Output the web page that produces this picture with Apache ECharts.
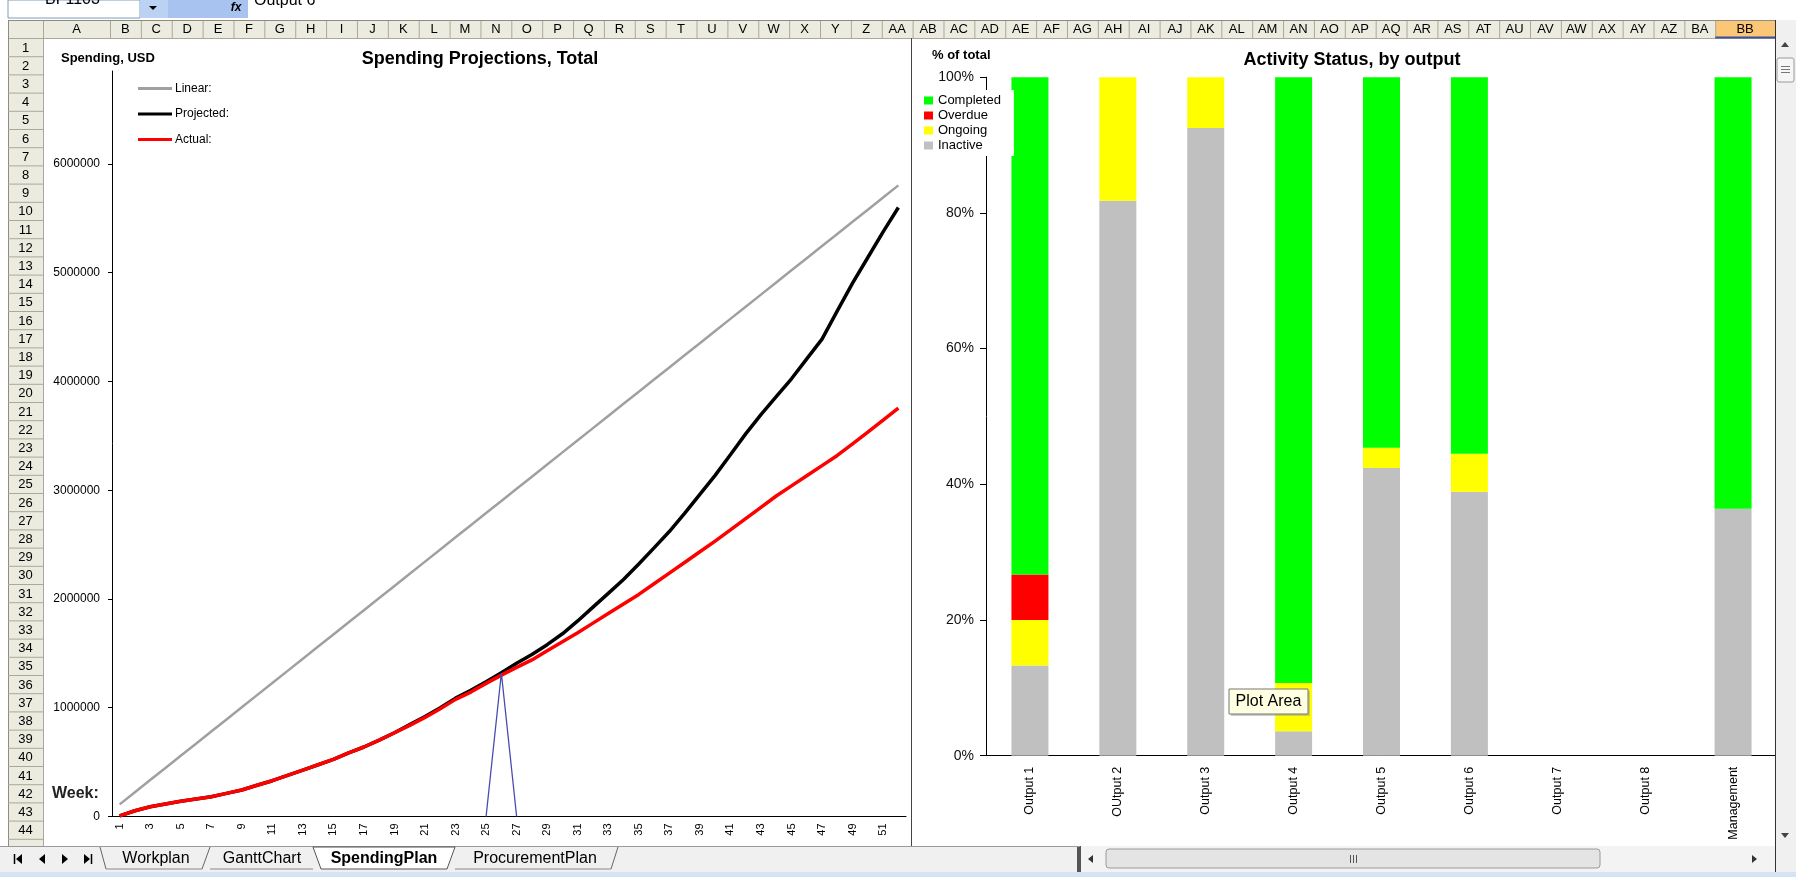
<!DOCTYPE html>
<html><head><meta charset="utf-8">
<script src="https://cdn.jsdelivr.net/npm/echarts@6/dist/echarts.min.js"></script>
<style>html,body{margin:0;padding:0;background:#fff;overflow:hidden}#chart{width:1796px;height:877px;}</style>
</head><body><div id="chart"></div>
<script>
// ---------- DATA ----------
const weeks = ['1','2','3','4','5','6','7','8','9','10','11','12','13','14','15','16','17','18','19','20','21','22','23','24','25','26','27','28','29','30','31','32','33','34','35','36','37','38','39','40','41','42','43','44','45','46','47','48','49','50','51','52'];
const linearSpend = [111600,223200,334800,446400,558000,669600,781200,892800,1004400,1116000,1227600,1339200,1450800,1562400,1674000,1785600,1897200,2008800,2120400,2232000,2343600,2455200,2566800,2678400,2790000,2901600,3013200,3124800,3236400,3348000,3459600,3571200,3682800,3794400,3906000,4017600,4129200,4240800,4352400,4464000,4575600,4687200,4798800,4910400,5022000,5133600,5245200,5356800,5468400,5580000,5691600,5803200];
const projectedSpend = [5000,53000,90000,115000,140000,161000,182000,213000,244000,287000,329000,378000,427000,476000,525000,586000,639000,703000,770000,845000,920000,1000000,1088000,1160000,1240000,1322000,1410000,1490000,1580000,1680000,1798000,1925000,2052000,2180000,2322000,2470000,2620000,2787000,2962000,3137000,3327000,3518000,3696000,3860000,4025000,4208000,4390000,4650000,4904000,5140000,5376000,5600000];
const actualSpend = [5000,53000,90000,115000,140000,161000,182000,213000,244000,287000,329000,378000,427000,476000,525000,586000,639000,703000,770000,838000,911000,991000,1077000,1144000,1224000,1300000,1371000,1440000,1524000,1607000,1690000,1778000,1866000,1954000,2042000,2140000,2238000,2336000,2434000,2532000,2635000,2739000,2843000,2947000,3040000,3133000,3226000,3320000,3426000,3535000,3645000,3755000];
const currentWeekMarker = [['25',0],['26',1320000],['27',0]];

const outputs = ['Output 1','OUtput 2','Output 3','Output 4','Output 5','Output 6','Output 7','Output 8','Management'];
const inactivePct  = [13.3, 81.8, 92.5, 3.6, 42.4, 38.9, 0, 0, 36.4];
const ongoingPct   = [6.7, 18.2, 7.5, 7.1, 3.0, 5.6, 0, 0, 0];
const overduePct   = [6.7, 0, 0, 0, 0, 0, 0, 0, 0];
const completedPct = [73.3, 0, 0, 89.3, 54.6, 55.5, 0, 0, 63.6];

const columnLetters = ['A','B','C','D','E','F','G','H','I','J','K','L','M','N','O','P','Q','R','S','T','U','V','W','X','Y','Z','AA','AB','AC','AD','AE','AF','AG','AH','AI','AJ','AK','AL','AM','AN','AO','AP','AQ','AR','AS','AT','AU','AV','AW','AX','AY','AZ','BA','BB'];
const sheetTabs = ['Workplan','GanttChart','SpendingPlan','ProcurementPlan'];

// ---------- CHROME (spreadsheet frame) ----------
const FONT = 'Arial, "Liberation Sans", sans-serif';
const HDR_BG = '#ecebe0', HDR_LINE = '#aca899';
const g = [];
function rect(x,y,w,h,fill,stroke,z){ g.push({type:'rect',z:z||50,silent:true,shape:{x:x,y:y,width:w,height:h},style:{fill:fill,stroke:stroke||null,lineWidth:1}}); }
function line(x1,y1,x2,y2,stroke,w,z){ g.push({type:'line',z:z||51,silent:true,shape:{x1:x1,y1:y1,x2:x2,y2:y2},style:{stroke:stroke,lineWidth:w||1}}); }
function text(x,y,t,font,fill,align,z){ g.push({type:'text',z:z||52,silent:true,x:x,y:y,style:{text:t,font:font,fill:fill||'#000',align:align||'center',textAlign:align||'center',verticalAlign:'middle',textVerticalAlign:'middle'}}); }
function tri(points,fill,z){ g.push({type:'polygon',z:z||52,silent:true,shape:{points:points},style:{fill:fill}}); }

// formula bar
rect(8,0,132,18,'#ffffff','#7f9db9');
text(45,0,'BF1103','16px '+FONT,'#000','left');
rect(140,0,28,18,'#bcd2f5',null);
tri([[149,6],[157,6],[153,10]],'#000');
rect(168,0,80,18,'#a8c3ef',null);
text(236,8,'fx','italic bold 12px '+FONT,'#000','center');
text(254,1,'Output 6','16px '+FONT,'#000','left');

// column header row
rect(8,20,1767,18,HDR_BG,null);
line(8,20.5,1775,20.5,'#8c8c80');
line(8,38.5,1775,38.5,HDR_LINE);
(function(){
  let x0 = 43;
  for (let i = 0; i < columnLetters.length; i++) {
    let x1;
    if (i === 0) x1 = 110;
    else if (i === columnLetters.length-1) x1 = 1775;
    else x1 = 110 + i*30.87;
    if (i === columnLetters.length-1) { rect(x0,20.5,x1-x0,17.5,'#fbc676',null); line(x0,37.5,x1,37.5,'#3a4f9e',2); }
    line(x1+0.5,21,x1+0.5,38,HDR_LINE);
    text((x0+x1)/2,29.5,columnLetters[i],'13px '+FONT,'#000');
    x0 = x1;
  }
})();
line(43.5,21,43.5,846,HDR_LINE);

// row header column
rect(8,38.5,35,808,HDR_BG,null);
line(8.5,20,8.5,846,'#8c8c80');
for (let r = 1; r <= 44; r++) {
  const y0 = 38.5 + (r-1)*18.2;
  line(8,y0+18.2,43,y0+18.2,HDR_LINE);
  text(25.5,y0+9.6,String(r),'13px '+FONT,'#000');
}

// divider between the two chart objects
line(911.5,38,911.5,846,'#444');

// sheet tab bar
rect(0,846,1080,26,'#f0f0f0',null,55);
line(0,846.5,1080,846.5,'#9a9a9a',1,56);
line(14.5,854,14.5,864,'#000',1.5,57); tri([[16,859],[22,854],[22,864]],'#000',57);
tri([[39,859],[45,854],[45,864]],'#000',57);
tri([[68,859],[62,854],[62,864]],'#000',57);
tri([[90,859],[84,854],[84,864]],'#000',57); line(91.5,854,91.5,864,'#000',1.5,57);
g.push({type:'polygon',z:56,silent:true,shape:{points:[[313,847],[321,869],[447,869],[455,847]]},style:{fill:'#ffffff',stroke:'#555',lineWidth:1}});
line(100,847,106,869,'#666',1,57); line(106,869,202,869,'#888',1,57); line(202,869,210,847,'#666',1,57);
line(210,869,313,869,'#888',1,57);
line(455,869,611,869,'#888',1,57); line(611,869,618,847,'#666',1,57);
text(156,859,sheetTabs[0],'16px '+FONT,'#000','center',58);
text(262,859,sheetTabs[1],'16px '+FONT,'#000','center',58);
text(384,859,sheetTabs[2],'bold 16px '+FONT,'#000','center',58);
text(535,859,sheetTabs[3],'16px '+FONT,'#000','center',58);
rect(1077,846,4,26,'#555',null,55);
rect(1081,846,694,26,'#f3f3f3',null,55);
tri([[1088,859],[1093,855],[1093,863]],'#333',57);
tri([[1757,859],[1752,855],[1752,863]],'#333',57);
g.push({type:'rect',z:56,silent:true,shape:{x:1106,y:849,width:494,height:19,r:3},style:{fill:'#e4e4e4',stroke:'#9a9a9a',lineWidth:1}});
line(1350.5,855,1350.5,863,'#555',1,57); line(1353.5,855,1353.5,863,'#555',1,57); line(1356.5,855,1356.5,863,'#555',1,57);
rect(1775,20,21,852,'#f0f0f0',null,55);
line(1775.5,20,1775.5,872,'#333',1,56);
tri([[1785,42],[1781,47],[1789,47]],'#444',57);
g.push({type:'rect',z:56,silent:true,shape:{x:1777,y:58,width:17,height:24,r:2},style:{fill:'#f6f6f6',stroke:'#9a9a9a',lineWidth:1}});
line(1781,66.5,1790,66.5,'#777',1,57); line(1781,69.5,1790,69.5,'#777',1,57); line(1781,72.5,1790,72.5,'#777',1,57);
tri([[1785,838],[1781,833],[1789,833]],'#444',57);
rect(0,872,1796,5,'#d4e3f6',null,55);

// chart texts
text(480,59,'Spending Projections, Total','bold 18px '+FONT,'#000');
text(61,58,'Spending, USD','bold 13px '+FONT,'#000','left');
text(52,794,'Week:','bold 16px '+FONT,'#222','left');
text(1352,60,'Activity Status, by output','bold 18px '+FONT,'#000');
text(932,55,'% of total','bold 13px '+FONT,'#000','left');
g.push({type:'rect',z:60,silent:true,shape:{x:1231,y:691,width:79,height:25},style:{fill:'#9a9a9a',opacity:0.5}});
g.push({type:'rect',z:61,silent:true,shape:{x:1229,y:689,width:79,height:25},style:{fill:'#ffffe1',stroke:'#767676',lineWidth:1}});
text(1268.5,701.5,'Plot Area','16px '+FONT,'#000','center',62);

// ---------- CHART ----------
const chart = echarts.init(document.getElementById('chart'), null, {renderer:'canvas', width:1796, height:877});
const axisBlack = {lineStyle:{color:'#000',width:1}};
chart.setOption({
  animation:false,
  textStyle:{fontFamily:FONT},
  grid:[
    {left:112, top:71, width:794, height:745.5},
    {left:986, top:77.2, width:791, height:678.5}
  ],
  legend:[
    {data:['Linear:','Projected:','Actual:'], orient:'vertical', left:138, top:82, padding:0, itemWidth:34, itemHeight:3, itemGap:12.5, icon:'rect', selectedMode:false,
     textStyle:{fontSize:12, lineHeight:13, color:'#000', fontFamily:FONT, padding:[0,0,0,-2]}},
    {data:['Completed','Overdue','Ongoing','Inactive'], orient:'vertical', left:919, top:90, backgroundColor:'#ffffff', padding:[4,13,4,5], itemWidth:9, itemHeight:8, itemGap:2, icon:'rect', selectedMode:false,
     textStyle:{fontSize:13, lineHeight:13, color:'#000', fontFamily:FONT}}
  ],
  xAxis:[
    {type:'category', gridIndex:0, data:weeks, boundaryGap:true,
     axisLine:axisBlack, axisTick:{interval:0, length:4, lineStyle:{color:'#000'}},
     axisLabel:{interval:1, rotate:90, fontSize:11, color:'#000', margin:7}},
    {type:'category', gridIndex:1, data:outputs, boundaryGap:true,
     axisLine:axisBlack, axisTick:{interval:0, length:6, lineStyle:{color:'#000'}},
     axisLabel:{interval:0, rotate:90, fontSize:12.5, color:'#000', margin:11}}
  ],
  yAxis:[
    {type:'value', gridIndex:0, min:0, max:6855000, interval:1000000,
     splitLine:{show:false}, axisLine:{show:true, lineStyle:{color:'#000',width:1}},
     axisTick:{show:true, length:4, lineStyle:{color:'#000'}},
     axisLabel:{showMaxLabel:false, fontSize:12, color:'#000', margin:12, formatter:function(v){return String(v);}}},
    {type:'value', gridIndex:1, min:0, max:100, interval:20,
     splitLine:{show:false}, axisLine:{show:true, lineStyle:{color:'#000',width:1}},
     axisTick:{show:true, length:6, lineStyle:{color:'#000'}},
     axisLabel:{formatter:'{value}%', fontSize:14, color:'#111', margin:12}}
  ],
  series:[
    {name:'Linear:', type:'line', xAxisIndex:0, yAxisIndex:0, data:linearSpend, symbol:'none', color:'#a0a0a0', lineStyle:{color:'#a0a0a0', width:2.5}, z:2},
    {name:'Projected:', type:'line', xAxisIndex:0, yAxisIndex:0, data:projectedSpend, symbol:'none', color:'#000000', lineStyle:{color:'#000000', width:3.5}, z:3},
    {name:'Actual:', type:'line', xAxisIndex:0, yAxisIndex:0, data:actualSpend, symbol:'none', color:'#ff0000', lineStyle:{color:'#ff0000', width:3.5}, z:4},
    {name:'Current week', type:'line', xAxisIndex:0, yAxisIndex:0, data:currentWeekMarker, symbol:'none', color:'#4a4ab0', lineStyle:{color:'#4a4ab0', width:1.3}, z:5},
    {name:'Inactive', type:'bar', stack:'s', xAxisIndex:1, yAxisIndex:1, data:inactivePct, barWidth:37, color:'#c0c0c0'},
    {name:'Ongoing', type:'bar', stack:'s', xAxisIndex:1, yAxisIndex:1, data:ongoingPct, barWidth:37, color:'#ffff00'},
    {name:'Overdue', type:'bar', stack:'s', xAxisIndex:1, yAxisIndex:1, data:overduePct, barWidth:37, color:'#ff0000'},
    {name:'Completed', type:'bar', stack:'s', xAxisIndex:1, yAxisIndex:1, data:completedPct, barWidth:37, color:'#00ff00'}
  ],
  graphic:{elements:g}
});
</script></body></html>
